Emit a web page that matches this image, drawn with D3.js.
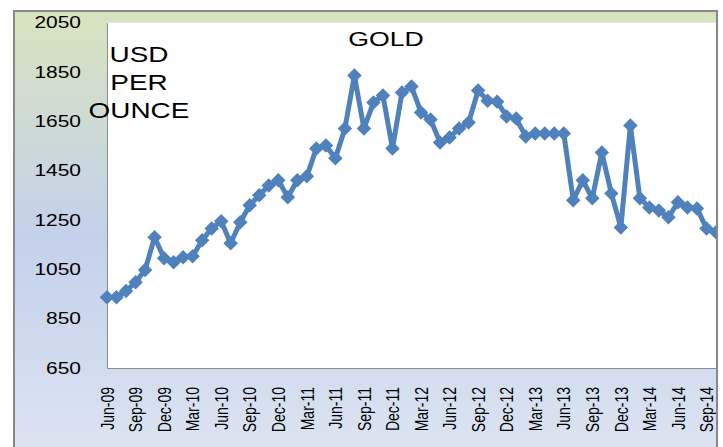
<!DOCTYPE html>
<html>
<head>
<meta charset="utf-8">
<script src="https://cdn.jsdelivr.net/npm/d3@7"></script>
<style>
  body { margin: 0; background: #fff; }
  svg { display: block; font-family: "Liberation Sans", Arial, sans-serif; }
</style>
</head>
<body>
<div id="chart"></div>
<script>
// Month categories (one point per month)
const months = [
  "Jun-09","Jul-09","Aug-09","Sep-09","Oct-09","Nov-09","Dec-09","Jan-10","Feb-10","Mar-10",
  "Apr-10","May-10","Jun-10","Jul-10","Aug-10","Sep-10","Oct-10","Nov-10","Dec-10","Jan-11",
  "Feb-11","Mar-11","Apr-11","May-11","Jun-11","Jul-11","Aug-11","Sep-11","Oct-11","Nov-11",
  "Dec-11","Jan-12","Feb-12","Mar-12","Apr-12","May-12","Jun-12","Jul-12","Aug-12","Sep-12",
  "Oct-12","Nov-12","Dec-12","Jan-13","Feb-13","Mar-13","Apr-13","May-13","Jun-13","Jul-13",
  "Aug-13","Sep-13","Oct-13","Nov-13","Dec-13","Jan-14","Feb-14","Mar-14","Apr-14","May-14",
  "Jun-14","Jul-14","Aug-14","Sep-14","Oct-14"
];

// Gold price, USD per ounce
const gold = [
  937, 937, 962, 998, 1047, 1180, 1095, 1079, 1099, 1103,
  1168, 1216, 1245, 1156, 1241, 1310, 1350, 1390, 1411, 1342,
  1411, 1427, 1540, 1552, 1500, 1621, 1836, 1621, 1726, 1755,
  1540, 1767, 1791, 1686, 1658, 1564, 1585, 1621, 1645, 1775,
  1734, 1730, 1670, 1662, 1589, 1601, 1601, 1601, 1601, 1330,
  1411, 1338, 1524, 1358, 1220, 1633, 1338, 1301, 1289, 1261,
  1322, 1301, 1297, 1216, 1200
];

// Labelled categories and value ticks
const xTickLabels = months.filter((m, i) => i % 3 === 0);
const yTicks = [650, 850, 1050, 1250, 1450, 1650, 1850, 2050];

const width = 723, height = 447;
const frame = { x: 14, y: 11, right: 717 };
const plot = { left: 107, right: 716, top: 22.7, bottom: 368 };
const stretch = 1.27; // the original picture is stretched sideways

const svg = d3.select("#chart").append("svg")
  .attr("width", width)
  .attr("height", height);

// background gradient of the chart area
const defs = svg.append("defs");
const grad = defs.append("linearGradient")
  .attr("id", "bg").attr("x1", 0).attr("y1", 0).attr("x2", 0).attr("y2", 1);
grad.append("stop").attr("offset", "0%").attr("stop-color", "#d8e4bf");
grad.append("stop").attr("offset", "48%").attr("stop-color", "#c4d1ea");
grad.append("stop").attr("offset", "100%").attr("stop-color", "#dfe6f3");

defs.append("clipPath").attr("id", "clip")
  .append("rect")
  .attr("x", 0).attr("y", 0)
  .attr("width", frame.right - 1).attr("height", height);

svg.append("rect")
  .attr("x", frame.x).attr("y", frame.y)
  .attr("width", frame.right - frame.x).attr("height", height + 20)
  .attr("fill", "url(#bg)");

// white plot area
svg.append("rect")
  .attr("x", plot.left).attr("y", plot.top)
  .attr("width", plot.right - plot.left).attr("height", plot.bottom - plot.top)
  .attr("fill", "#fff");

// scales
const x = d3.scalePoint()
  .domain(months)
  .range([plot.left, plot.right]);

const y = d3.scaleLinear()
  .domain([650, 2050])
  .range([plot.bottom, plot.top]);

// y axis
const yAxis = svg.append("g")
  .attr("transform", `translate(${plot.left},0)`)
  .call(d3.axisLeft(y).tickValues(yTicks).tickFormat(d3.format("d")).tickSize(0).tickPadding(0));
yAxis.select(".domain").attr("stroke", "#8c8c8c");
yAxis.selectAll("text")
  .attr("x", -26 / stretch)
  .attr("transform", `scale(${stretch},1)`)
  .attr("font-size", "16.5px")
  .attr("font-family", "'Liberation Sans', Arial, sans-serif")
  .attr("fill", "#000");

// x axis
const xAxis = svg.append("g")
  .attr("clip-path", "url(#clip)")
  .append("g")
  .attr("transform", `translate(0,${plot.bottom})`)
  .call(d3.axisBottom(x).tickValues(xTickLabels).tickSize(0).tickPadding(0));
xAxis.select(".domain").attr("stroke", "#8c8c8c");
xAxis.selectAll("text")
  .attr("x", 0).attr("y", 0).attr("dy", "0.35em")
  .attr("text-anchor", "end")
  .attr("transform", `translate(0,19) scale(${stretch},1) rotate(-90)`)
  .attr("font-size", "14px")
  .attr("font-family", "'Liberation Sans', Arial, sans-serif")
  .attr("fill", "#000");

// line and markers
const series = months.map((m, i) => ({ month: m, value: gold[i] }));
const g = svg.append("g").attr("clip-path", "url(#clip)");

g.append("path")
  .datum(series)
  .attr("fill", "none")
  .attr("stroke", "#4f81bd")
  .attr("stroke-width", 5)
  .attr("stroke-linejoin", "round")
  .attr("d", d3.line().x(d => x(d.month)).y(d => y(d.value)));

g.selectAll(".marker")
  .data(series)
  .enter()
  .append("path")
  .attr("class", "marker")
  .attr("transform", d => `translate(${x(d.month)},${y(d.value)}) rotate(45)`)
  .attr("d", d3.symbol(d3.symbolSquare, 105))
  .attr("fill", "#4f81bd");

// titles
svg.append("text")
  .attr("transform", `translate(386,46) scale(${stretch},1)`)
  .attr("text-anchor", "middle")
  .attr("font-size", "21px")
  .attr("fill", "#000")
  .text("GOLD");

["USD", "PER", "OUNCE"].forEach((t, i) => {
  svg.append("text")
    .attr("transform", `translate(139,${62 + i * 28}) scale(${stretch},1)`)
    .attr("text-anchor", "middle")
    .attr("font-size", "22px")
    .attr("fill", "#000")
    .text(t);
});

// outer frame
svg.append("path")
  .attr("d", `M${frame.x},${height + 5}V${frame.y}H${frame.right}V${height + 5}`)
  .attr("fill", "none")
  .attr("stroke", "#888")
  .attr("stroke-width", 2);
</script>
</body>
</html>
